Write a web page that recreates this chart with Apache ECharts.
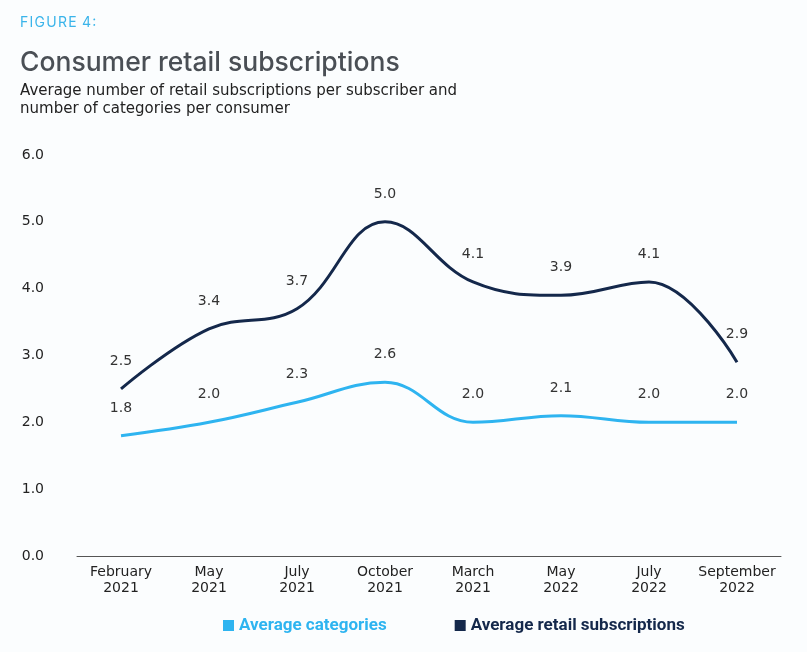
<!DOCTYPE html>
<html>
<head>
<meta charset="utf-8">
<script src="https://cdn.jsdelivr.net/npm/echarts@6/dist/echarts.min.js"></script>
<style>
  html, body { margin: 0; padding: 0; background: #fbfdfe; }
  #chart { width: 807px; height: 652px; }
</style>
</head>
<body>
<div id="chart"></div>
<script>
// 数据
const categories = ['February\n2021', 'May\n2021', 'July\n2021', 'October\n2021',
                    'March\n2021', 'May\n2022', 'July\n2022', 'September\n2022'];
const avgCategories = [1.8, 2.0, 2.3, 2.6, 2.0, 2.1, 2.0, 2.0];
const avgSubscriptions = [2.5, 3.4, 3.7, 5.0, 4.1, 3.9, 4.1, 2.9];
const yTicks = { min: 0, max: 6, interval: 1 };

const lightBlue = '#2eb4f0';
const navy = '#14284b';

const chart = echarts.init(document.getElementById('chart'));

const labelStyle = {
    show: true,
    position: 'top',
    distance: 20,
    color: '#333',
    fontFamily: 'DejaVu Sans',
    fontSize: 14,
    formatter: p => p.value.toFixed(1)
};

const option = {
    backgroundColor: '#fbfdfe',
    animation: false,
    title: [
        { text: 'F\u200AI\u200AG\u200AU\u200AR\u200AE\u200A 4\u200A:', left: 20, top: 16, padding: 0,
          textStyle: { color: '#3ab4ea', fontSize: 14, fontWeight: 'normal', fontFamily: 'Inter' } },
        { text: 'Consumer retail subscriptions', left: 20, top: 50, padding: 0,
          textStyle: { color: '#4a4f55', fontSize: 26.5, fontWeight: 500, fontFamily: 'Inter' } },
        { text: 'Average number of retail subscriptions per subscriber and\nnumber of categories per consumer',
          left: 20, top: 82, padding: 0,
          textStyle: { color: '#222', fontSize: 15, fontWeight: 'normal', fontFamily: 'DejaVu Sans', lineHeight: 18 } }
    ],
    legend: {
        bottom: 13,
        left: 218,
        itemWidth: 11,
        itemHeight: 11,
        itemGap: 68,
        icon: 'rect',
        textStyle: { fontSize: 17, fontWeight: 'bold', fontFamily: 'Roboto' },
        data: [
            { name: 'Average categories', itemStyle: { color: lightBlue, opacity: 1 }, textStyle: { color: lightBlue } },
            { name: 'Average retail subscriptions', itemStyle: { color: navy, opacity: 1 }, textStyle: { color: navy } }
        ]
    },
    grid: { left: 77, right: 26, top: 155, bottom: 96 },
    xAxis: {
        type: 'category',
        data: categories,
        boundaryGap: true,
        axisLine: { lineStyle: { color: '#555', width: 1 } },
        axisTick: { show: false },
        axisLabel: { interval: 0, color: '#222', fontSize: 14, lineHeight: 16, margin: 8, fontFamily: 'DejaVu Sans' }
    },
    yAxis: {
        type: 'value',
        min: yTicks.min,
        max: yTicks.max,
        interval: yTicks.interval,
        splitLine: { show: false },
        axisLine: { show: false },
        axisTick: { show: false },
        axisLabel: { color: '#222', fontSize: 14, margin: 33, fontFamily: 'DejaVu Sans',
                     formatter: v => v.toFixed(1) }
    },
    series: [
        {
            name: 'Average categories',
            type: 'line',
            data: avgCategories,
            smooth: 0.4,
            symbol: 'circle',
            symbolSize: 1,
            showAllSymbol: true,
            lineStyle: { color: lightBlue, width: 3 },
            itemStyle: { color: 'rgba(0,0,0,0)' },
            label: labelStyle
        },
        {
            name: 'Average retail subscriptions',
            type: 'line',
            data: avgSubscriptions,
            smooth: 0.4,
            symbol: 'circle',
            symbolSize: 1,
            showAllSymbol: true,
            lineStyle: { color: navy, width: 3 },
            itemStyle: { color: 'rgba(0,0,0,0)' },
            label: labelStyle
        }
    ]
};
chart.setOption(option);
window.addEventListener('resize', () => chart.resize());
</script>
</body>
</html>
